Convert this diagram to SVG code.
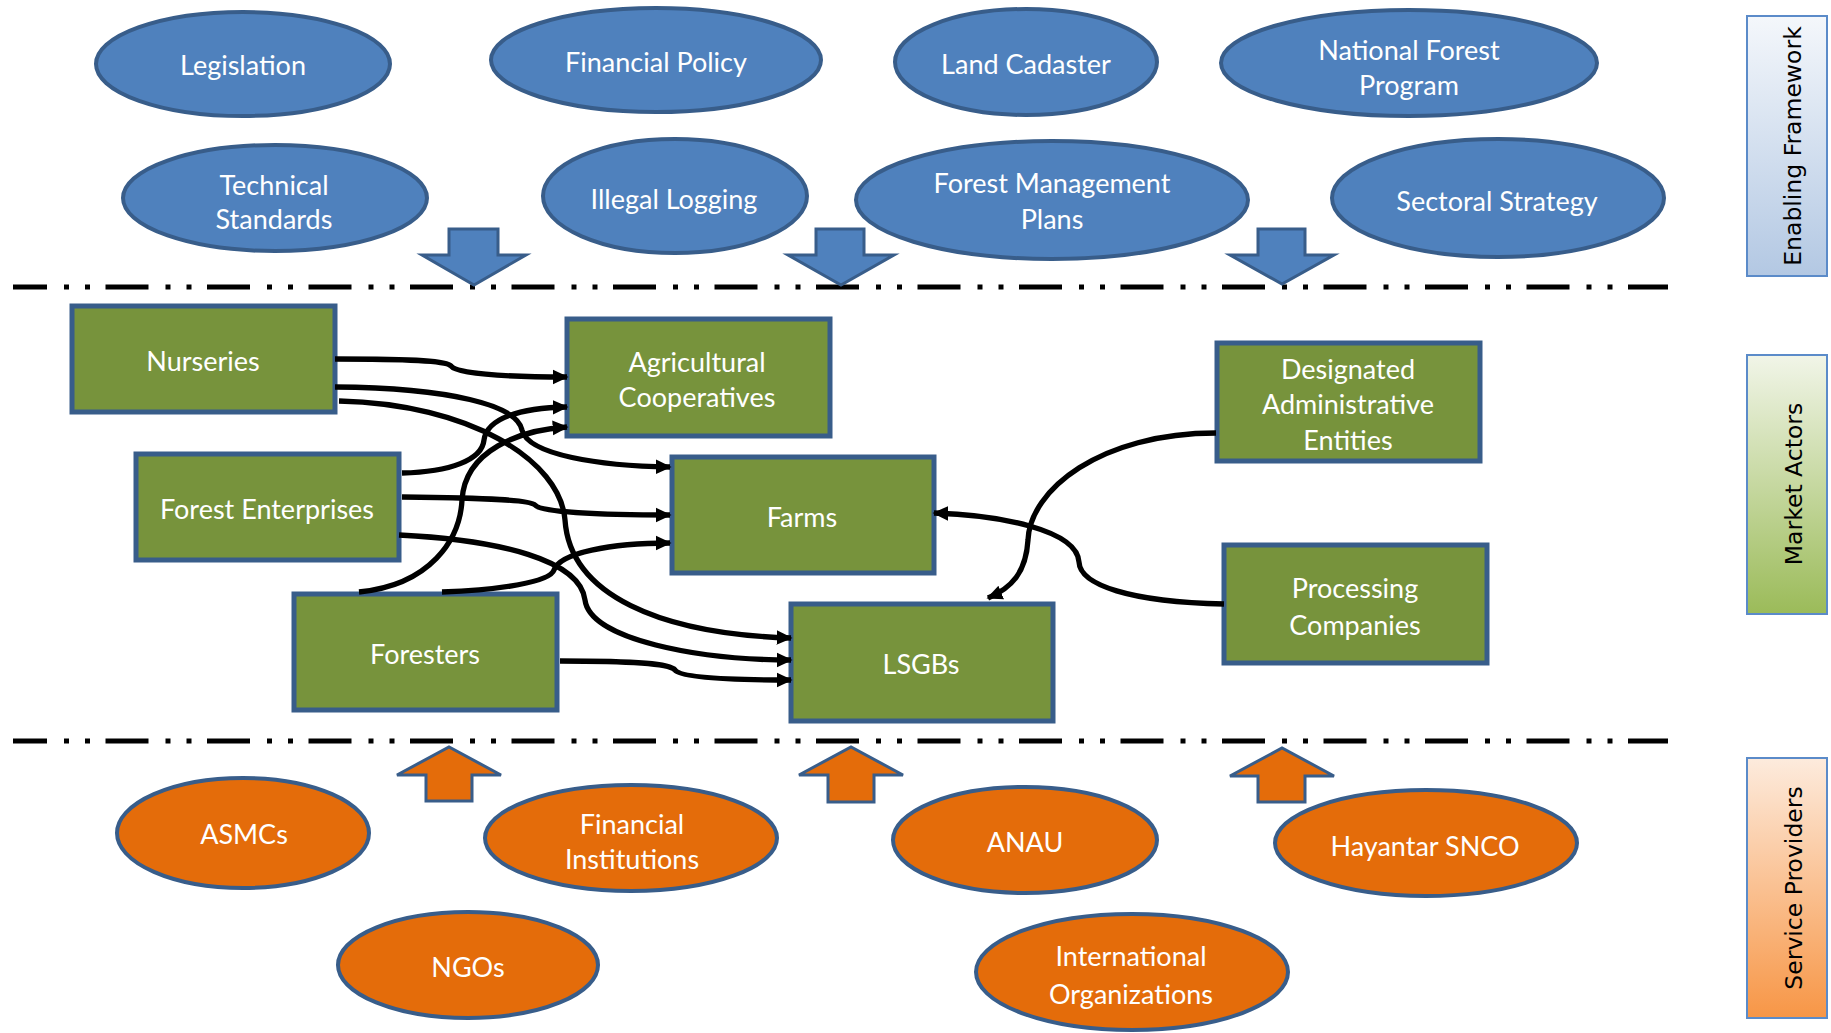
<svg xmlns="http://www.w3.org/2000/svg" width="1831" height="1033" viewBox="0 0 1831 1033">
<style>
.eb{fill:#4F81BD;stroke:#385D8A;stroke-width:4}
.eo{fill:#E46C0A;stroke:#385D8A;stroke-width:4}
.bx{fill:#77933C;stroke:#385D8A;stroke-width:5}
.ab{fill:#4F81BD;stroke:#385D8A;stroke-width:3}
.ao{fill:#E46C0A;stroke:#385D8A;stroke-width:3}
.t{font-family:Lato,"Liberation Sans",sans-serif;font-size:27px;fill:#FFFFFF;text-anchor:middle;dominant-baseline:central}
.lab{font-family:"DejaVu Sans",Verdana,sans-serif;font-size:23.5px;fill:#000000;text-anchor:middle}
.dl{stroke:#000;stroke-width:5;fill:none;stroke-dasharray:43 17 5 16 5 15.5}
.cn{fill:none;stroke:#000;stroke-width:5.3}
</style>
<defs>
<marker id="ah" viewBox="0 0 10 10" refX="9" refY="5" markerWidth="3" markerHeight="3" orient="auto" markerUnits="strokeWidth"><path d="M0,0.4 L10,5 L0,9.6 z" fill="#000"/></marker>
<linearGradient id="gb" x1="0" y1="0" x2="0" y2="1"><stop offset="0" stop-color="#F4F7FB"/><stop offset="1" stop-color="#B3C8E3"/></linearGradient>
<linearGradient id="gg" x1="0" y1="0" x2="0" y2="1"><stop offset="0" stop-color="#F1F5E8"/><stop offset="1" stop-color="#9BBB59"/></linearGradient>
<linearGradient id="go" x1="0" y1="0" x2="0" y2="1"><stop offset="0" stop-color="#FDEBDD"/><stop offset="1" stop-color="#F79646"/></linearGradient>
</defs>
<rect width="1831" height="1033" fill="#FFFFFF"/>

<g id="section-labels">
<g id="enabling-framework"><rect x="1747" y="16" width="80" height="260" fill="url(#gb)" stroke="#5B8BC9" stroke-width="2"/><text class="lab" transform="translate(1801,146) rotate(-90)">Enabling Framework</text></g>
<g id="market-actors"><rect x="1747" y="355" width="80" height="259" fill="url(#gg)" stroke="#5B8BC9" stroke-width="2"/><text class="lab" transform="translate(1802,484) rotate(-90)">Market Actors</text></g>
<g id="service-providers"><rect x="1747" y="758" width="80" height="260" fill="url(#go)" stroke="#5B8BC9" stroke-width="2"/><text class="lab" transform="translate(1802,888) rotate(-90)">Service Providers</text></g>
</g>

<g id="dividers">
<line class="dl" x1="13" y1="287" x2="1668" y2="287" stroke-dashoffset="9"/>
<line class="dl" x1="13" y1="741" x2="1668" y2="741" stroke-dashoffset="9"/>
</g>

<g id="block-arrows">
<polygon class="ab" points="449,229 498,229 498,255 526,255 474,285 422,255 449,255"/>
<polygon class="ab" points="816,229 864,229 864,255 894,255 841,285 788,255 816,255"/>
<polygon class="ab" points="1258,229 1305,229 1305,255 1334,255 1282,284 1230,255 1258,255"/>
<polygon class="ao" points="426,801 472,801 472,775 501,775 449,747 397,775 426,775"/>
<polygon class="ao" points="828,802 874,802 874,775 903,775 851,747 799,775 828,775"/>
<polygon class="ao" points="1258,802 1305,802 1305,776 1334,776 1282,748 1230,776 1258,776"/>
</g>

<g id="enabling">
<g id="legislation"><ellipse class="eb" cx="243" cy="64" rx="147" ry="52"/><text class="t" x="243" y="64">Legislation</text></g>
<g id="financial-policy"><ellipse class="eb" cx="656" cy="60" rx="165" ry="52"/><text class="t" x="656" y="61">Financial Policy</text></g>
<g id="land-cadaster"><ellipse class="eb" cx="1026" cy="62" rx="131" ry="53"/><text class="t" x="1026" y="63">Land Cadaster</text></g>
<g id="national-forest-program"><ellipse class="eb" cx="1409" cy="63" rx="188" ry="53"/><text class="t" x="1409" y="49">National Forest</text><text class="t" x="1409" y="84">Program</text></g>
<g id="technical-standards"><ellipse class="eb" cx="275" cy="198" rx="152" ry="53"/><text class="t" x="274" y="184">Technical</text><text class="t" x="274" y="218">Standards</text></g>
<g id="illegal-logging"><ellipse class="eb" cx="675" cy="196" rx="132" ry="57"/><text class="t" x="674" y="198">Illegal Logging</text></g>
<g id="forest-management-plans"><ellipse class="eb" cx="1052" cy="200" rx="196" ry="59"/><text class="t" x="1052" y="182">Forest Management</text><text class="t" x="1052" y="218">Plans</text></g>
<g id="sectoral-strategy"><ellipse class="eb" cx="1498" cy="198" rx="166" ry="59"/><text class="t" x="1497" y="200">Sectoral Strategy</text></g>
</g>

<g id="actors">
<g id="nurseries"><rect class="bx" x="72" y="306" width="263" height="106"/><text class="t" x="203" y="360">Nurseries</text></g>
<g id="forest-enterprises"><rect class="bx" x="136" y="454" width="263" height="106"/><text class="t" x="267" y="508">Forest Enterprises</text></g>
<g id="foresters"><rect class="bx" x="294" y="594" width="263" height="116"/><text class="t" x="425" y="653">Foresters</text></g>
<g id="agricultural-cooperatives"><rect class="bx" x="567" y="319" width="263" height="117"/><text class="t" x="697" y="361">Agricultural</text><text class="t" x="697" y="396">Cooperatives</text></g>
<g id="farms"><rect class="bx" x="672" y="457" width="262" height="116"/><text class="t" x="802" y="516">Farms</text></g>
<g id="lsgbs"><rect class="bx" x="791" y="604" width="262" height="117"/><text class="t" x="921" y="663">LSGBs</text></g>
<g id="designated-administrative-entities"><rect class="bx" x="1217" y="343" width="263" height="118"/><text class="t" x="1348" y="368">Designated</text><text class="t" x="1348" y="403">Administrative</text><text class="t" x="1348" y="439">Entities</text></g>
<g id="processing-companies"><rect class="bx" x="1224" y="545" width="263" height="118"/><text class="t" x="1355" y="587">Processing</text><text class="t" x="1355" y="624">Companies</text></g>
</g>

<g id="providers">
<g id="asmcs"><ellipse class="eo" cx="243" cy="833" rx="126" ry="55"/><text class="t" x="244" y="833">ASMCs</text></g>
<g id="financial-institutions"><ellipse class="eo" cx="631" cy="838" rx="146" ry="53"/><text class="t" x="632" y="823">Financial</text><text class="t" x="632" y="858">Institutions</text></g>
<g id="ngos"><ellipse class="eo" cx="468" cy="965" rx="130" ry="53"/><text class="t" x="468" y="966">NGOs</text></g>
<g id="anau"><ellipse class="eo" cx="1025" cy="840" rx="132" ry="53"/><text class="t" x="1025" y="841">ANAU</text></g>
<g id="hayantar-snco"><ellipse class="eo" cx="1426" cy="843" rx="151" ry="53"/><text class="t" x="1425" y="845">Hayantar SNCO</text></g>
<g id="international-organizations"><ellipse class="eo" cx="1132" cy="972" rx="156" ry="58"/><text class="t" x="1131" y="955">International</text><text class="t" x="1131" y="993">Organizations</text></g>
</g>

<g id="connectors">
<path class="cn" marker-end="url(#ah)" d="M335,359 C420,359 447,361 451,366 C456,373 500,377 567,377"/>
<path class="cn" marker-end="url(#ah)" d="M335,387 C450,388 517,405 522,430 C528,455 600,466 670,467"/>
<path class="cn" marker-end="url(#ah)" d="M339,401 C470,404 560,460 565,520 C570,595 660,634 791,638"/>
<path class="cn" marker-end="url(#ah)" d="M402,473 C450,472 482,460 484,440 C487,418 520,408 567,407"/>
<path class="cn" marker-end="url(#ah)" d="M402,497 C490,498 530,500 535,505 C540,512 600,515 670,515"/>
<path class="cn" marker-end="url(#ah)" d="M399,535 C500,540 580,560 585,600 C590,640 700,660 791,660"/>
<path class="cn" marker-end="url(#ah)" d="M359,592 C430,585 460,540 462,500 C465,450 520,430 567,427"/>
<path class="cn" marker-end="url(#ah)" d="M442,592 C500,590 550,582 554,570 C560,553 610,543 670,543"/>
<path class="cn" marker-end="url(#ah)" d="M560,661 C640,661 670,664 675,670 C680,677 720,680 791,680"/>
<path class="cn" marker-end="url(#ah)" d="M1216,433 C1100,433 1030,490 1028,540 C1026,572 1012,588 988,598"/>
<path class="cn" marker-end="url(#ah)" d="M1224,604 C1130,602 1080,585 1079,562 C1077,530 1000,515 934,513"/>
</g>
</svg>
